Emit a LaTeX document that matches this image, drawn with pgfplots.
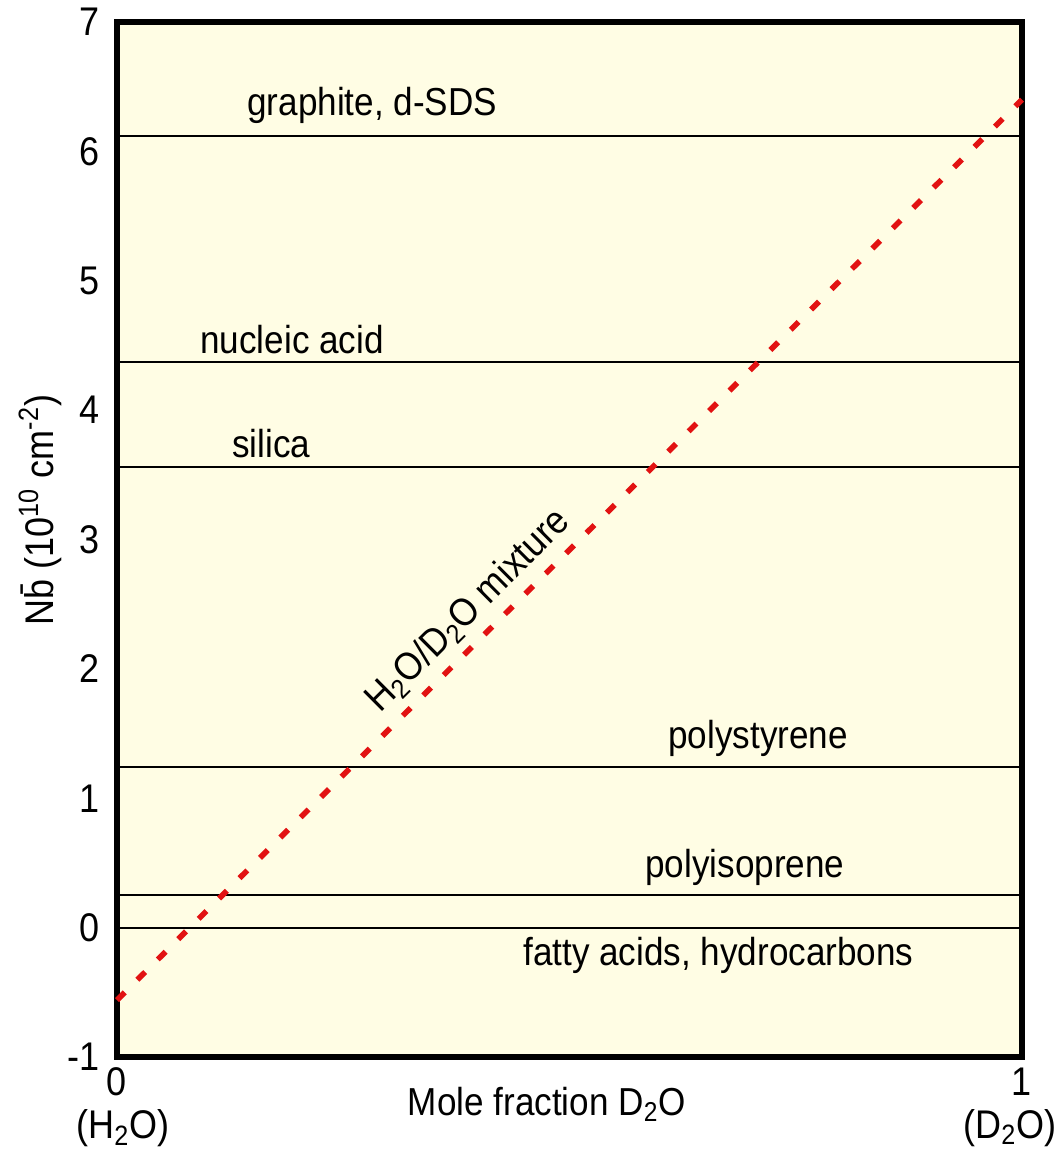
\documentclass[border=0pt]{standalone}
\usepackage{pgfplots}
\pgfplotsset{compat=1.18}
\usepackage{fontspec}
\setmainfont{Liberation Sans}[FakeStretch=0.9]
\definecolor{bg}{RGB}{255,253,228}
\definecolor{dred}{RGB}{226,18,18}
\begin{document}
\begin{tikzpicture}
\path[use as bounding box] (-58.5pt,-47pt) rectangle (469.5pt,528.5pt);
\begin{axis}[
  at={(0,0)}, anchor=south west,
  scale only axis, width=452.5pt, height=517.5pt,
  xmin=0, xmax=1, ymin=-1, ymax=7,
  clip=false,
  axis background/.style={fill=bg},
  axis line style={line width=2.6pt},
  major tick length=0pt,
  ytick={-1,0,1,2,3,4,5,6,7},
  yticklabels={-1,0,1,2,3,4,5,6,7},
  xtick={0,1},
  xticklabels={0\\\rule{6pt}{0pt}(H\textsubscript{2}O),1\\(D\textsubscript{2}O)\rule{12pt}{0pt}},
  ticklabel style={font=\fontsize{20}{21.5}\selectfont},
  yticklabel style={xshift=-5pt},
  xticklabel style={align=center, yshift=-2pt},
]
\addplot[black, line width=0.9pt] coordinates {(0,6.12) (1,6.12)};
\addplot[black, line width=0.9pt] coordinates {(0,4.37) (1,4.37)};
\addplot[black, line width=0.9pt] coordinates {(0,3.56) (1,3.56)};
\addplot[black, line width=0.9pt] coordinates {(0,1.24) (1,1.24)};
\addplot[black, line width=0.9pt] coordinates {(0,0.25) (1,0.25)};
\addplot[black, line width=0.9pt] coordinates {(0,0) (1,0)};
\addplot[dred, line width=2.8pt, dash pattern=on 5.5pt off 8.9pt, dash phase=0pt]
  coordinates {(0,-0.56) (1,6.40)}
  node[pos=0.41, sloped, above, inner sep=4pt, black, font=\fontsize{19.5}{21}\selectfont] {H\textsubscript{2}O/D\textsubscript{2}O mixture};
\begin{scope}[every node/.style={anchor=base west, inner sep=0pt, font=\fontsize{19.5}{21}\selectfont}]
\node at (axis cs:0.1436,6.279) {graphite, d-SDS};
\node at (axis cs:0.0917,4.441) {nucleic acid};
\node at (axis cs:0.1271,3.637) {silica};
\node at (axis cs:0.6088,1.388) {polystyrene};
\node at (axis cs:0.5834,0.391) {polyisoprene};
\node at (axis cs:0.4486,-0.289) {fatty acids, hydrocarbons};
\end{scope}
\node[anchor=base, inner sep=0pt, font=\fontsize{19.5}{22}\selectfont] at ([yshift=-29pt]rel axis cs:0.475,0) {Mole fraction D\textsubscript{2}O};
\node[rotate=90, anchor=center, inner sep=0pt, font=\fontsize{20}{21}\selectfont] at ([xshift=-38.5pt]rel axis cs:0,0.5285) {N\=b (10\textsuperscript{10} cm\textsuperscript{-2})};
\end{axis}
\end{tikzpicture}
\end{document}
